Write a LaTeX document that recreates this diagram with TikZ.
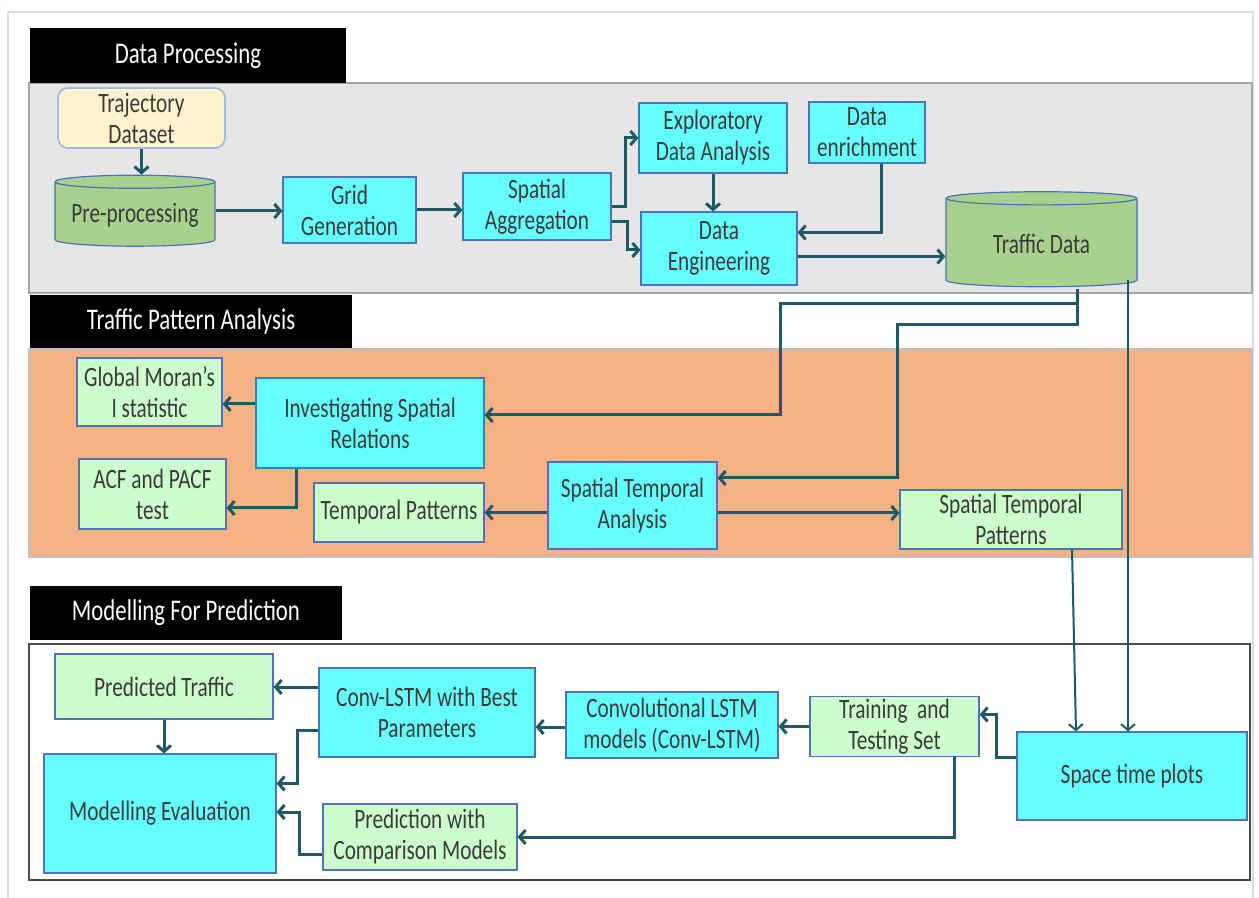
\documentclass[tikz,border=0pt]{standalone}
\usepackage{fontspec}
\usepackage{tikz}
\usetikzlibrary{shapes.geometric,arrows.meta}
\newfontfamily\diagfont{Carlito}[FakeStretch=0.76]
\definecolor{cyanbox}{HTML}{66FFFF}
\definecolor{greenbox}{HTML}{CCFFCC}
\definecolor{creambox}{HTML}{FFF2CC}
\definecolor{storefill}{HTML}{A9D18E}
\definecolor{boxline}{HTML}{4F73B8}
\definecolor{flowcol}{HTML}{1F5968}
\definecolor{txtgray}{HTML}{3A3A3A}
\definecolor{panelgray}{HTML}{E6E6E6}
\definecolor{panelorange}{HTML}{F4B183}
\definecolor{framecol}{HTML}{D5DCEA}

\begin{document}
\begin{tikzpicture}[x=0.5pt,y=-0.5pt,
      every node/.style={font=\diagfont\fontsize{14}{15.5}\selectfont,text=txtgray,align=center,inner sep=1pt},
      proc/.style={rectangle,draw=boxline,line width=0.6pt,fill=cyanbox},
      result/.style={proc,fill=greenbox},
      store/.style={cylinder,shape border rotate=90,draw=boxline,line width=0.6pt,fill=storefill},
      head/.style={rectangle,fill=black,text=white,font=\diagfont\fontsize{15}{17}\selectfont},
      flow/.style={draw=flowcol,line width=1.5pt,-{Straight Barb[length=3pt,width=7pt]}},
      thinflow/.style={flow,line width=1pt}]
  \useasboundingbox (0,0) rectangle (1259,898);
  \draw[framecol,line width=1pt] (8,898) -- (8,12) -- (1253,12) -- (1253,898);

  \fill[panelgray,draw=gray!70,line width=0.8pt] (29,83) rectangle (1252,293);
  \fill[panelorange,draw=gray!50,line width=0.8pt] (29,349) rectangle (1252,557);
  \draw[black!70,line width=0.8pt] (29,644) rectangle (1250,880);

  \node[head,minimum width=158pt,minimum height=27.5pt] (h1) at (188,55.5) {Data Processing};
  \node[head,minimum width=161pt,minimum height=26.5pt] (h2) at (191,321.5) {Traffic Pattern Analysis};
  \node[head,minimum width=156pt,minimum height=27pt] (h3) at (186,613) {Modelling For Prediction};

  \node[rectangle,rounded corners=5pt,draw=boxline!50,line width=0.8pt,fill=creambox,
        minimum width=83.5pt,minimum height=30pt] (traj) at (141.5,118) {Trajectory\\Dataset};
  \node[store,aspect=0.1,minimum width=80pt,minimum height=35.5pt] (pre) at (135,215) {Pre-processing};
  \node[proc,minimum width=66.5pt,minimum height=33pt] (grid) at (349.5,210) {Grid\\Generation};
  \node[proc,minimum width=74pt,minimum height=33.5pt] (sagg) at (537,206.5) {Spatial\\Aggregation};
  \node[proc,minimum width=74pt,minimum height=35pt] (eda) at (713,138) {Exploratory\\Data Analysis};
  \node[proc,minimum width=58pt,minimum height=30.5pt] (enrich) at (867,132.5) {Data\\enrichment};
  \node[proc,minimum width=78pt,minimum height=36.5pt] (deng) at (719,248.5) {Data\\Engineering};
  \node[store,aspect=0.13,minimum width=95.5pt,minimum height=47.5pt] (traffic) at (1041.5,243.5) {Traffic Data};

  \node[result,minimum width=72.5pt,minimum height=34pt] (moran) at (149.5,392) {Global Moran’s\\I statistic};
  \node[proc,minimum width=114pt,minimum height=45pt] (isr) at (370,423) {Investigating Spatial\\Relations};
  \node[result,minimum width=73.5pt,minimum height=35pt] (acf) at (152.5,494) {ACF and PACF\\test};
  \node[result,minimum width=85pt,minimum height=29.5pt] (temp) at (399,512.5) {Temporal Patterns};
  \node[proc,minimum width=84.5pt,minimum height=43.5pt] (sta) at (632.5,505.5) {Spatial Temporal\\Analysis};
  \node[result,minimum width=111pt,minimum height=29.5pt] (stp) at (1011,519.5) {Spatial Temporal\\Patterns};

  \node[result,minimum width=109pt,minimum height=32.5pt] (pred) at (164,686.5) {Predicted Traffic};
  \node[proc,minimum width=108pt,minimum height=44.5pt] (clbest) at (427,712.5) {Conv-LSTM with Best\\Parameters};
  \node[proc,minimum width=106pt,minimum height=33pt] (clm) at (672,725) {Convolutional LSTM\\models (Conv-LSTM)};
  \node[result,minimum width=84.5pt,minimum height=29.5pt] (train) at (894.5,726.5) {Training~~and\\Testing Set};
  \node[proc,minimum width=115pt,minimum height=44pt] (stplot) at (1132,776) {Space time plots};
  \node[proc,minimum width=116pt,minimum height=59.5pt] (meval) at (160,813.5) {Modelling Evaluation};
  \node[result,minimum width=97pt,minimum height=33pt] (pcm) at (420,837) {Prediction with\\Comparison Models};

  \draw[flow] (traj.south) -- (traj.south |- pre.north);
  \draw[flow] ([yshift=2pt]pre.east) -- ([yshift=2pt]pre.east -| grid.west);
  \draw[flow] (grid.east) -- (grid.east -| sagg.west);
  \draw[flow] (sagg.east) -- ++(14,0) |- (eda.west);
  \draw[flow] ([yshift=-7.5pt]sagg.east) -- ++(16,0) |- ([yshift=-0.75pt]deng.west);
  \draw[flow] (eda.south) -- (eda.south |- deng.north);
  \draw[flow] ([xshift=7pt]enrich.south) |- ([yshift=8pt]deng.east);
  \draw[flow] ([yshift=-4pt]deng.east) -- ([yshift=-4pt]deng.east -| traffic.west);

  \draw[flow] ([xshift=17.75pt,yshift=-1pt]traffic.south) |- (780,304) |- ([yshift=4pt]isr.east);
  \draw[flow] ([xshift=17.75pt,yshift=-1pt]traffic.south) |- (897,325) |- ([yshift=13.75pt]sta.east);
  \draw[thinflow] ([xshift=43.25pt,yshift=3.5pt]traffic.south) -- ([xshift=-2pt]stplot.north);
  \draw[flow] ([yshift=9.5pt]isr.west) -- ([yshift=9.5pt]isr.west -| moran.east);
  \draw[flow] ([xshift=-37pt]isr.south) |- ([yshift=-7pt]acf.east);
  \draw[flow] (sta.west |- temp.east) -- (temp.east);
  \draw[flow] ([yshift=-3.75pt]sta.east) -- ([yshift=-3.75pt]sta.east -| stp.west);
  \draw[thinflow] ([xshift=30.5pt]stp.south) -- ([xshift=-28pt]stplot.north);

  \draw[flow] ([yshift=9.5pt]stplot.west) -- ++(-20,0) |- ([yshift=6pt]train.east);
  \draw[flow] (train.west) -- (train.west -| clm.east);
  \draw[flow] ([yshift=-1pt]clm.west) -- ([yshift=-1pt]clm.west -| clbest.east);
  \draw[flow] ([yshift=12.75pt]clbest.west) -- ([yshift=12.75pt]clbest.west -| pred.east);
  \draw[flow] (pred.south) -- (pred.south |- meval.north);
  \draw[flow] ([yshift=-9pt]clbest.west) -- ++(-21,0) |- ([yshift=15pt]meval.east);
  \draw[flow] ([xshift=30pt]train.south) |- (pcm.east);
  \draw[flow] ([yshift=-8.5pt]pcm.west) -- ++(-23,0) |- ([yshift=0.75pt]meval.east);
\end{tikzpicture}
\end{document}
